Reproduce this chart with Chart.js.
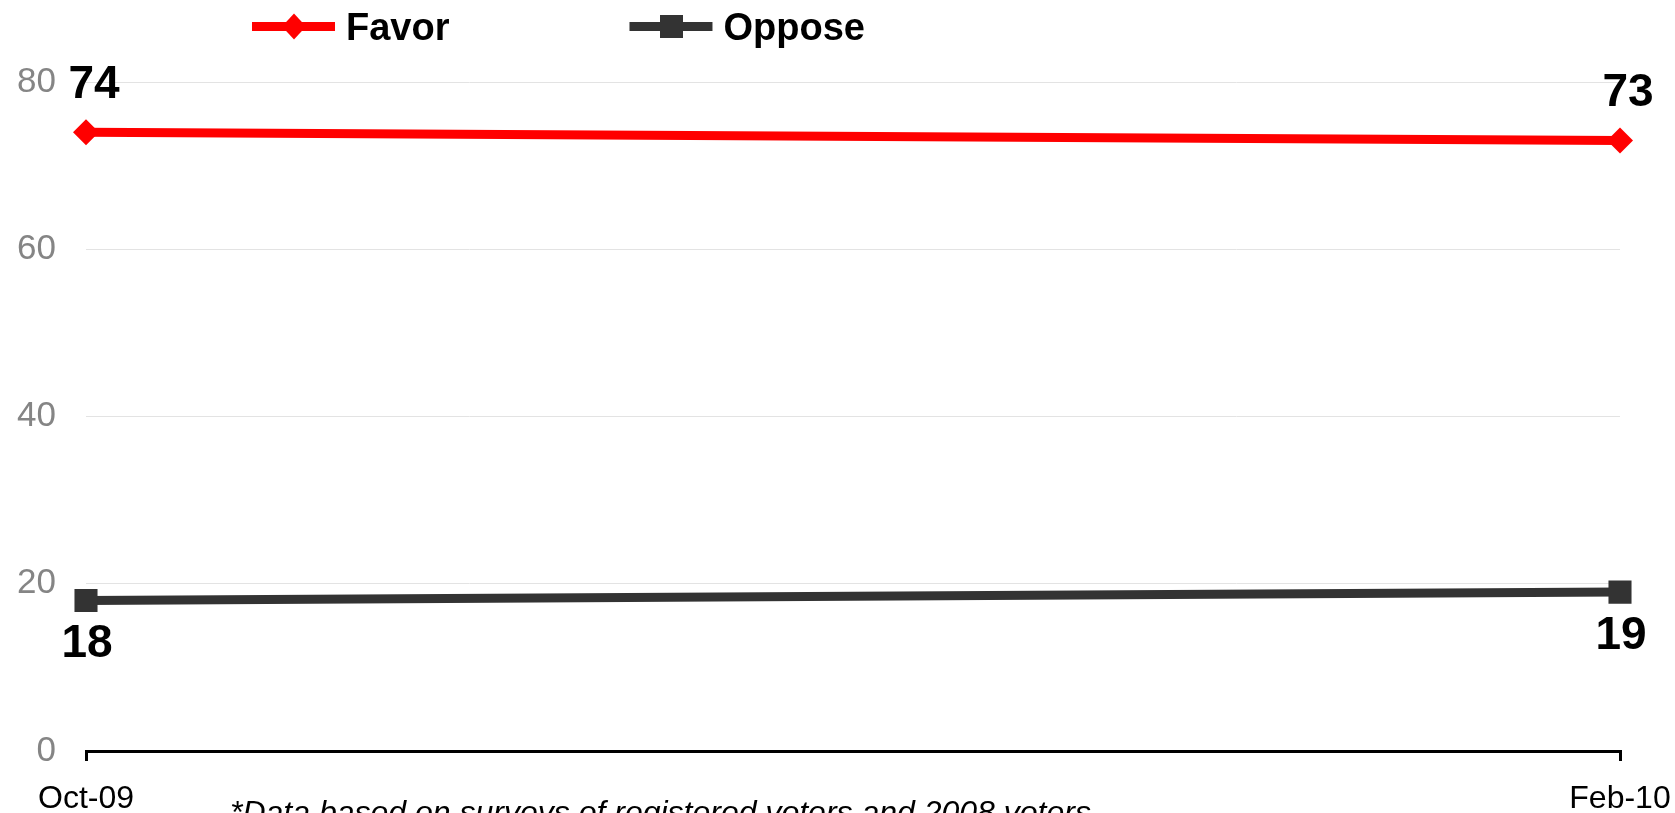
<!DOCTYPE html>
<html>
<head>
<meta charset="utf-8">
<script src="https://cdn.jsdelivr.net/npm/chart.js@4/dist/chart.umd.min.js"></script>
<style>
  html, body { margin: 0; padding: 0; background: #fff; }
  #wrap { width: 1675px; height: 813px; }
</style>
</head>
<body>
<div id="wrap"><canvas id="chart-line" width="1675" height="813"></canvas></div>
<script>
const categories = ["Oct-09", "Feb-10"];
const favorValues = [74, 73];
const opposeValues = [18, 19];
const yTickValues = [0, 20, 40, 60, 80];
const seriesNames = ["Favor", "Oppose"];
const footnote = "*Data based on surveys of registered voters and 2008 voters";

const FONT = "'Liberation Sans', Arial, sans-serif";
const COLORS = { favor: "#ff0000", oppose: "#333333", tick: "#858585", grid: "#e3e3e3" };

// marker shapes (same as chart points), used for the legend
function drawMarker(ctx, style, x, y, color) {
  ctx.save();
  ctx.fillStyle = color;
  ctx.beginPath();
  if (style === "rectRot") {
    ctx.moveTo(x, y - 13);
    ctx.lineTo(x + 12, y);
    ctx.lineTo(x, y + 13);
    ctx.lineTo(x - 12, y);
  } else {
    ctx.rect(x - 11.5, y - 11.5, 23, 23);
  }
  ctx.closePath();
  ctx.fill();
  ctx.restore();
}

// legend: line + marker + bold label
const legendPlugin = {
  id: "lineLegend",
  afterDraw(chart) {
    const ctx = chart.ctx;
    let x = 252;
    const y = 26.5;
    ctx.save();
    ctx.font = "bold 38px " + FONT;
    ctx.textBaseline = "middle";
    chart.data.datasets.forEach((ds) => {
      ctx.strokeStyle = ds.borderColor;
      ctx.lineWidth = 9;
      ctx.beginPath();
      ctx.moveTo(x, y);
      ctx.lineTo(x + 83, y);
      ctx.stroke();
      drawMarker(ctx, ds.pointStyle, x + 42, y, ds.borderColor);
      ctx.fillStyle = "#000";
      ctx.fillText(ds.label, x + 94, y + 3);
      x += 83 + 11 + ctx.measureText(ds.label).width + 180;
    });
    ctx.restore();
  },
};

// value labels above / below the points
const valueLabelPlugin = {
  id: "valueLabels",
  afterDatasetsDraw(chart) {
    const ctx = chart.ctx;
    ctx.save();
    ctx.font = "bold 46px " + FONT;
    ctx.fillStyle = "#000";
    ctx.textAlign = "center";
    ctx.textBaseline = "middle";
    chart.data.datasets.forEach((ds, i) => {
      const meta = chart.getDatasetMeta(i);
      meta.data.forEach((pt, j) => {
        ctx.fillText(String(ds.data[j]), pt.x + ds.labelDx, pt.y + ds.labelDy);
      });
    });
    ctx.restore();
  },
};

const footnotePlugin = {
  id: "footnote",
  afterDraw(chart) {
    const ctx = chart.ctx;
    ctx.save();
    ctx.font = "italic 32px " + FONT;
    ctx.fillStyle = "#000";
    ctx.textBaseline = "alphabetic";
    ctx.fillText(footnote, 230, 823);
    ctx.restore();
  },
};

const ctx = document.getElementById("chart-line").getContext("2d");

new Chart(ctx, {
  type: "line",
  data: {
    labels: categories,
    datasets: [
      {
        label: seriesNames[0],
        data: favorValues,
        borderColor: COLORS.favor,
        backgroundColor: COLORS.favor,
        pointStyle: "rectRot",
        labelDx: 8,
        labelDy: -47,
      },
      {
        label: seriesNames[1],
        data: opposeValues,
        borderColor: COLORS.oppose,
        backgroundColor: COLORS.oppose,
        pointStyle: "rect",
        labelDx: 1,
        labelDy: 44,
      },
    ],
  },
  plugins: [legendPlugin, valueLabelPlugin, footnotePlugin],
  options: {
    responsive: false,
    animation: false,
    devicePixelRatio: 1,
    layout: { autoPadding: false, padding: { top: 82, left: 17, right: 55, bottom: 1 } },
    elements: {
      line: { borderWidth: 9, tension: 0 },
      point: { radius: 13, borderWidth: 0, hoverRadius: 13 },
    },
    datasets: {
      line: { pointRadius: (c) => (c.dataset.pointStyle === "rect" ? 16.3 : 13) },
    },
    scales: {
      x: {
        offset: false,
        afterFit: (scale) => {
          scale.height = 61;
          scale.paddingLeft = 0;
          scale.paddingRight = 0;
        },
        border: { color: "#000", width: 3 },
        grid: {
          drawOnChartArea: false,
          drawTicks: true,
          tickLength: 10,
          color: "#000",
          lineWidth: 3,
        },
        ticks: {
          color: "#000",
          padding: 22,
          maxRotation: 0,
          font: { family: FONT, size: 32, lineHeight: 1 },
        },
      },
      y: {
        min: 0,
        max: 80,
        afterBuildTicks: (scale) => {
          scale.ticks = yTickValues.map((v) => ({ value: v }));
        },
        afterFit: (scale) => {
          scale.width = 69;
        },
        border: { display: false },
        grid: { color: COLORS.grid, lineWidth: 1, drawTicks: false },
        ticks: {
          color: COLORS.tick,
          padding: 30,
          font: { family: FONT, size: 35 },
        },
      },
    },
    plugins: {
      legend: { display: false },
      tooltip: { enabled: false },
    },
  },
});
</script>
</body>
</html>
